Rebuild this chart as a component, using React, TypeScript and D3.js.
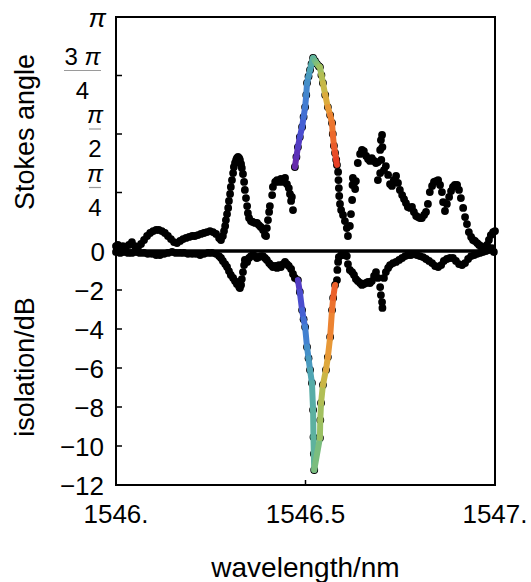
import React, { useEffect, useRef } from "react";
import * as d3 from "d3";

// Stokes angle, in units of pi, against wavelength (nm)
const stokesBefore: [number, number][] = [
  [1546.000, 0.021], [1546.005, 0.026], [1546.011, 0.017], [1546.018, 0.021], [1546.026, 0.017],
  [1546.034, 0.026], [1546.042, 0.038], [1546.050, 0.021], [1546.058, 0.017], [1546.066, 0.030],
  [1546.074, 0.047], [1546.082, 0.064], [1546.090, 0.077], [1546.098, 0.085], [1546.106, 0.090],
  [1546.113, 0.090], [1546.121, 0.085], [1546.129, 0.077], [1546.137, 0.064], [1546.145, 0.051],
  [1546.153, 0.038], [1546.161, 0.034], [1546.169, 0.043], [1546.177, 0.051], [1546.185, 0.056],
  [1546.193, 0.060], [1546.201, 0.064], [1546.208, 0.064], [1546.216, 0.068], [1546.224, 0.073],
  [1546.232, 0.077], [1546.240, 0.081], [1546.248, 0.085], [1546.256, 0.081], [1546.264, 0.073],
  [1546.272, 0.056], [1546.277, 0.047], [1546.282, 0.064], [1546.285, 0.085], [1546.288, 0.107],
  [1546.290, 0.132], [1546.293, 0.158], [1546.296, 0.184], [1546.298, 0.214], [1546.301, 0.244],
  [1546.303, 0.274], [1546.306, 0.303], [1546.309, 0.333], [1546.311, 0.359], [1546.314, 0.376],
  [1546.317, 0.389], [1546.319, 0.397], [1546.322, 0.402], [1546.325, 0.397], [1546.327, 0.389],
  [1546.330, 0.372], [1546.332, 0.355], [1546.335, 0.329], [1546.338, 0.295], [1546.340, 0.261],
  [1546.343, 0.226], [1546.346, 0.192], [1546.348, 0.162], [1546.351, 0.141], [1546.356, 0.128],
  [1546.361, 0.124], [1546.367, 0.120], [1546.372, 0.120], [1546.377, 0.111], [1546.382, 0.103],
  [1546.388, 0.090], [1546.393, 0.068], [1546.396, 0.064], [1546.398, 0.098], [1546.401, 0.132],
  [1546.404, 0.167], [1546.406, 0.192], [1546.412, 0.239], [1546.414, 0.274], [1546.420, 0.295],
  [1546.425, 0.303], [1546.430, 0.295], [1546.435, 0.308], [1546.441, 0.295], [1546.446, 0.312],
  [1546.451, 0.286], [1546.456, 0.269], [1546.459, 0.244], [1546.462, 0.214], [1546.464, 0.231],
  [1546.467, 0.175],
];

const stokesPeak: [number, number][] = [
  [1546.472, 0.359], [1546.476, 0.402], [1546.480, 0.444], [1546.485, 0.487], [1546.491, 0.530],
  [1546.495, 0.573], [1546.499, 0.615], [1546.502, 0.667], [1546.504, 0.718], [1546.508, 0.746],
  [1546.512, 0.774], [1546.516, 0.800], [1546.520, 0.825], [1546.525, 0.812], [1546.530, 0.800],
  [1546.535, 0.790], [1546.538, 0.786], [1546.542, 0.752], [1546.546, 0.718], [1546.552, 0.667],
  [1546.559, 0.615], [1546.565, 0.581], [1546.570, 0.547], [1546.572, 0.500], [1546.575, 0.450],
  [1546.578, 0.419], [1546.581, 0.390], [1546.583, 0.368],
];

const stokesAfter: [number, number][] = [
  [1546.586, 0.338], [1546.587, 0.303], [1546.588, 0.269], [1546.589, 0.235], [1546.591, 0.201],
  [1546.594, 0.175], [1546.599, 0.154], [1546.604, 0.128], [1546.609, 0.098], [1546.612, 0.064],
  [1546.617, 0.107], [1546.620, 0.158], [1546.623, 0.218], [1546.624, 0.282], [1546.625, 0.312],
  [1546.628, 0.291], [1546.631, 0.265], [1546.633, 0.299], [1546.638, 0.376], [1546.644, 0.415],
  [1546.649, 0.432], [1546.654, 0.427], [1546.660, 0.406], [1546.665, 0.393], [1546.670, 0.385],
  [1546.675, 0.397], [1546.681, 0.385], [1546.686, 0.376], [1546.691, 0.380], [1546.697, 0.432],
  [1546.699, 0.474], [1546.702, 0.496], [1546.703, 0.444], [1546.700, 0.389], [1546.697, 0.333],
  [1546.691, 0.303], [1546.707, 0.346], [1546.712, 0.363], [1546.718, 0.325], [1546.723, 0.286],
  [1546.728, 0.278], [1546.733, 0.303], [1546.739, 0.321], [1546.744, 0.291], [1546.749, 0.261],
  [1546.755, 0.239], [1546.760, 0.222], [1546.765, 0.205], [1546.770, 0.188], [1546.776, 0.184],
  [1546.781, 0.188], [1546.786, 0.167], [1546.792, 0.150], [1546.797, 0.145], [1546.802, 0.141],
  [1546.807, 0.141], [1546.813, 0.154], [1546.818, 0.167], [1546.823, 0.201], [1546.828, 0.252],
  [1546.834, 0.278], [1546.839, 0.295], [1546.844, 0.299], [1546.850, 0.303], [1546.855, 0.282],
  [1546.860, 0.252], [1546.863, 0.209], [1546.868, 0.171], [1546.873, 0.201], [1546.879, 0.231],
  [1546.884, 0.256], [1546.889, 0.274], [1546.894, 0.282], [1546.900, 0.282], [1546.905, 0.261],
  [1546.910, 0.226], [1546.916, 0.184], [1546.921, 0.145], [1546.926, 0.115], [1546.931, 0.081],
  [1546.937, 0.060], [1546.942, 0.047], [1546.947, 0.043], [1546.953, 0.034], [1546.958, 0.026],
  [1546.963, 0.021], [1546.968, 0.013], [1546.974, 0.013], [1546.979, 0.026], [1546.984, 0.047],
  [1546.989, 0.068], [1546.995, 0.081], [1547.000, 0.085],
];

// isolation (dB) against wavelength (nm)
const isoBefore: [number, number][] = [
  [1546.000, -0.05], [1546.011, -0.10], [1546.021, -0.05], [1546.032, -0.10], [1546.042, -0.10],
  [1546.053, -0.05], [1546.063, -0.10], [1546.074, -0.10], [1546.084, -0.15], [1546.095, -0.15],
  [1546.106, -0.21], [1546.116, -0.21], [1546.127, -0.15], [1546.137, -0.10], [1546.148, -0.05],
  [1546.158, -0.10], [1546.169, -0.10], [1546.179, -0.10], [1546.190, -0.15], [1546.201, -0.15],
  [1546.211, -0.15], [1546.222, -0.21], [1546.232, -0.15], [1546.243, -0.10], [1546.253, -0.10],
  [1546.264, -0.15], [1546.272, -0.26], [1546.277, -0.36], [1546.282, -0.51], [1546.288, -0.67],
  [1546.293, -0.82], [1546.298, -1.03], [1546.303, -1.23], [1546.309, -1.38], [1546.314, -1.54],
  [1546.319, -1.69], [1546.325, -1.85], [1546.327, -1.90], [1546.330, -1.74], [1546.332, -1.44],
  [1546.335, -1.08], [1546.338, -0.72], [1546.340, -0.46], [1546.346, -0.56], [1546.351, -0.36],
  [1546.356, -0.26], [1546.361, -0.21], [1546.367, -0.26], [1546.372, -0.36], [1546.377, -0.31],
  [1546.382, -0.26], [1546.388, -0.26], [1546.393, -0.36], [1546.398, -0.46], [1546.404, -0.62],
  [1546.409, -0.72], [1546.414, -0.82], [1546.420, -0.77], [1546.425, -0.87], [1546.430, -0.72],
  [1546.435, -0.82], [1546.441, -0.67], [1546.446, -0.56], [1546.451, -0.67], [1546.456, -0.77],
  [1546.462, -0.92], [1546.467, -1.18], [1546.472, -1.38],
];

const isoPeak: [number, number][] = [
  [1546.480, -1.49], [1546.485, -2.10], [1546.491, -3.03], [1546.495, -3.50], [1546.499, -3.90],
  [1546.504, -4.92], [1546.508, -5.50], [1546.512, -6.10], [1546.517, -6.77], [1546.520, -8.15],
  [1546.521, -9.54], [1546.522, -10.40], [1546.523, -11.23], [1546.538, -9.59], [1546.539, -8.67],
  [1546.541, -7.79], [1546.546, -6.87], [1546.554, -6.10], [1546.559, -5.44], [1546.565, -4.41],
  [1546.570, -3.03], [1546.573, -2.41], [1546.578, -1.74],
];

const isoAfter: [number, number][] = [
  [1546.583, -1.49], [1546.584, -0.97], [1546.586, -0.56], [1546.588, -0.31], [1546.594, -0.21],
  [1546.599, -0.21], [1546.604, -0.15], [1546.609, -0.26], [1546.612, -0.67], [1546.617, -0.97],
  [1546.623, -1.08], [1546.628, -1.23], [1546.633, -1.44], [1546.638, -1.54], [1546.644, -1.64],
  [1546.649, -1.74], [1546.654, -1.69], [1546.660, -1.64], [1546.665, -1.59], [1546.670, -1.64],
  [1546.675, -1.54], [1546.681, -1.28], [1546.686, -1.08], [1546.691, -1.38], [1546.697, -1.85],
  [1546.699, -2.26], [1546.702, -2.62], [1546.703, -2.92], [1546.707, -1.38], [1546.712, -1.08],
  [1546.718, -0.87], [1546.723, -0.72], [1546.731, -0.62], [1546.739, -0.56], [1546.747, -0.46],
  [1546.755, -0.36], [1546.763, -0.26], [1546.770, -0.21], [1546.778, -0.21], [1546.786, -0.15],
  [1546.794, -0.21], [1546.802, -0.26], [1546.810, -0.31], [1546.818, -0.41], [1546.826, -0.51],
  [1546.834, -0.62], [1546.842, -0.77], [1546.850, -0.82], [1546.858, -0.72], [1546.865, -0.51],
  [1546.873, -0.41], [1546.881, -0.36], [1546.889, -0.36], [1546.897, -0.51], [1546.905, -0.67],
  [1546.913, -0.72], [1546.921, -0.62], [1546.929, -0.41], [1546.937, -0.26], [1546.945, -0.21],
  [1546.953, -0.15], [1546.960, -0.10], [1546.968, -0.05], [1546.976, 0.00], [1546.984, 0.05],
  [1546.992, 0.15], [1546.997, -0.05],
];

const xTicks = [1546, 1546.5, 1547];
const xTickLabels = ["1546.", "1546.5", "1547."];
const angleTicks = [0.25, 0.5, 0.75, 1];
const angleNumerators = ["π", "π", "3 π", "π"];
const angleDenominators = ["4", "2", "4", ""];
const dbTicks = [-2, -4, -6, -8, -10, -12];
const rainbow = ["#6a25a6", "#4a40d0", "#3f7ed8", "#4aa6b8", "#6cbc88", "#a8c458", "#e2b03a", "#f08030", "#e63b25"];

const dimension = { width: 379, height: 468, margin: { top: 17, right: 36, bottom: 97, left: 116 } };
const FONT = "'Liberation Sans', Arial, sans-serif";

function drawFrame(g, axis, dimension) {
  const { width, height } = dimension;
  g.append("rect")
    .attr("x", 0).attr("y", 0).attr("width", width).attr("height", height)
    .attr("fill", "none").attr("stroke", "#000").attr("stroke-width", 2);
  // zero line between the two panels
  g.append("line")
    .attr("x1", 0).attr("x2", width)
    .attr("y1", axis.angle(0)).attr("y2", axis.angle(0))
    .attr("stroke", "#000").attr("stroke-width", 3.5);
}

function drawTicks(g, axis, dimension) {
  const { height } = dimension;
  g.append("g").selectAll("line").data(angleTicks.slice(0, 3)).enter().append("line")
    .attr("x1", 0).attr("x2", 6)
    .attr("y1", d => axis.angle(d)).attr("y2", d => axis.angle(d))
    .attr("stroke", "#000").attr("stroke-width", 1.5);
  g.append("g").selectAll("line").data(dbTicks.slice(0, 5)).enter().append("line")
    .attr("x1", 0).attr("x2", 6)
    .attr("y1", d => axis.db(d)).attr("y2", d => axis.db(d))
    .attr("stroke", "#000").attr("stroke-width", 1.5);
  g.append("line")
    .attr("x1", axis.x(1546.5)).attr("x2", axis.x(1546.5))
    .attr("y1", height).attr("y2", height - 5)
    .attr("stroke", "#000").attr("stroke-width", 1.5);
}

function drawLabels(g, axis, dimension) {
  const { height } = dimension;
  const fs = 26;

  // x tick labels
  g.append("g").selectAll("text").data(xTicks).enter().append("text")
    .attr("x", d => axis.x(d)).attr("y", height + 38)
    .attr("text-anchor", "middle").attr("font-size", fs).attr("font-family", FONT)
    .text((d, i) => xTickLabels[i]);

  // zero label shared by both panels
  g.append("text")
    .attr("x", -11).attr("y", axis.angle(0) + 9.5)
    .attr("text-anchor", "end").attr("font-size", fs).attr("font-family", FONT)
    .text("0");

  // isolation ticks
  g.append("g").selectAll("text").data(dbTicks).enter().append("text")
    .attr("x", -12).attr("y", d => axis.db(d) + 9.5)
    .attr("text-anchor", "end").attr("font-size", fs).attr("font-family", FONT)
    .text(d => "\u2212" + Math.abs(d));

  // Stokes angle ticks as fractions of pi
  angleTicks.forEach((t, i) => {
    const ty = axis.angle(t);
    const num = angleNumerators[i];
    const den = angleDenominators[i];
    if (!den) {
      g.append("text")
        .attr("x", -10).attr("y", ty + 10)
        .attr("text-anchor", "end").attr("font-size", fs).attr("font-family", FONT)
        .attr("font-style", "italic")
        .text(num);
      return;
    }
    const barW = num.length > 1 ? 37 : 12;
    const cx = -15 - barW / 2;
    const t1 = g.append("text")
      .attr("x", cx).attr("y", ty - 11)
      .attr("text-anchor", "middle").attr("font-size", fs - 2).attr("font-family", FONT);
    num.split(" ").forEach((part, k) => {
      t1.append("tspan")
        .attr("font-style", part === "π" ? "italic" : "normal")
        .text((k > 0 ? " " : "") + part);
    });
    g.append("line")
      .attr("x1", cx - barW / 2).attr("x2", cx + barW / 2)
      .attr("y1", ty - 5).attr("y2", ty - 5)
      .attr("stroke", "#9a9a9a").attr("stroke-width", 1.2);
    g.append("text")
      .attr("x", cx).attr("y", ty + 23)
      .attr("text-anchor", "middle").attr("font-size", fs - 2).attr("font-family", FONT)
      .text(den);
  });
}

function drawTitles(svg, dimension) {
  const { margin, width } = dimension;
  svg.append("text")
    .attr("transform", "translate(34,132) rotate(-90)")
    .attr("text-anchor", "middle").attr("font-size", 27).attr("font-family", FONT)
    .text("Stokes angle");
  svg.append("text")
    .attr("transform", "translate(34,367) rotate(-90)")
    .attr("text-anchor", "middle").attr("font-size", 27).attr("font-family", FONT)
    .text("isolation/dB");
  svg.append("text")
    .attr("x", margin.left + width / 2).attr("y", 577)
    .attr("text-anchor", "middle").attr("font-size", 28).attr("font-family", FONT)
    .text("wavelength/nm");
}

function drawPoints(g, data, x, y) {
  g.append("g").selectAll("circle").data(data).enter().append("circle")
    .attr("cx", d => x(d[0])).attr("cy", d => y(d[1]))
    .attr("r", 3.9).attr("fill", "#000");
}

function drawRainbow(g, data, x, y, color) {
  g.append("g").selectAll("line").data(d3.pairs(data)).enter().append("line")
    .attr("x1", ([a]) => x(a[0])).attr("y1", ([a]) => y(a[1]))
    .attr("x2", ([, b]) => x(b[0])).attr("y2", ([, b]) => y(b[1]))
    .attr("stroke", ([a, b]) => color((a[0] + b[0]) / 2))
    .attr("stroke-width", 6).attr("stroke-linecap", "round");
}

function draw(node) {
  const { width, height, margin } = dimension;
  const svg = d3.select(node);
  svg.selectAll("*").remove();
  const g = svg.append("g").attr("transform", `translate(${margin.left},${margin.top})`);

  const axis = {
    x: d3.scaleLinear().domain([1546, 1547]).range([0, width]),
    angle: d3.scaleLinear().domain([0, 1]).range([height / 2, 0]),
    db: d3.scaleLinear().domain([0, -12]).range([height / 2, height]),
  };
  const color = d3.scaleSequential(d3.interpolateRgbBasis(rainbow))
    .domain([stokesPeak[0][0], stokesPeak[stokesPeak.length - 1][0]]);

  drawFrame(g, axis, dimension);
  drawTicks(g, axis, dimension);

  drawPoints(g, [...stokesBefore, ...stokesPeak, ...stokesAfter], axis.x, axis.angle);
  drawPoints(g, [...isoBefore, ...isoPeak, ...isoAfter], axis.x, axis.db);
  drawRainbow(g, stokesPeak, axis.x, axis.angle, color);
  drawRainbow(g, isoPeak, axis.x, axis.db, color);

  drawLabels(g, axis, dimension);
  drawTitles(svg, dimension);
}

export default function App() {
  const ref = useRef(null);
  useEffect(() => {
    draw(ref.current);
  }, []);
  const { width, height, margin } = dimension;
  return (
    <svg
      ref={ref}
      width={width + margin.left + margin.right}
      height={height + margin.top + margin.bottom}
      style={{ position: "absolute", left: 0, top: 0, background: "#fff" }}
    />
  );
}
